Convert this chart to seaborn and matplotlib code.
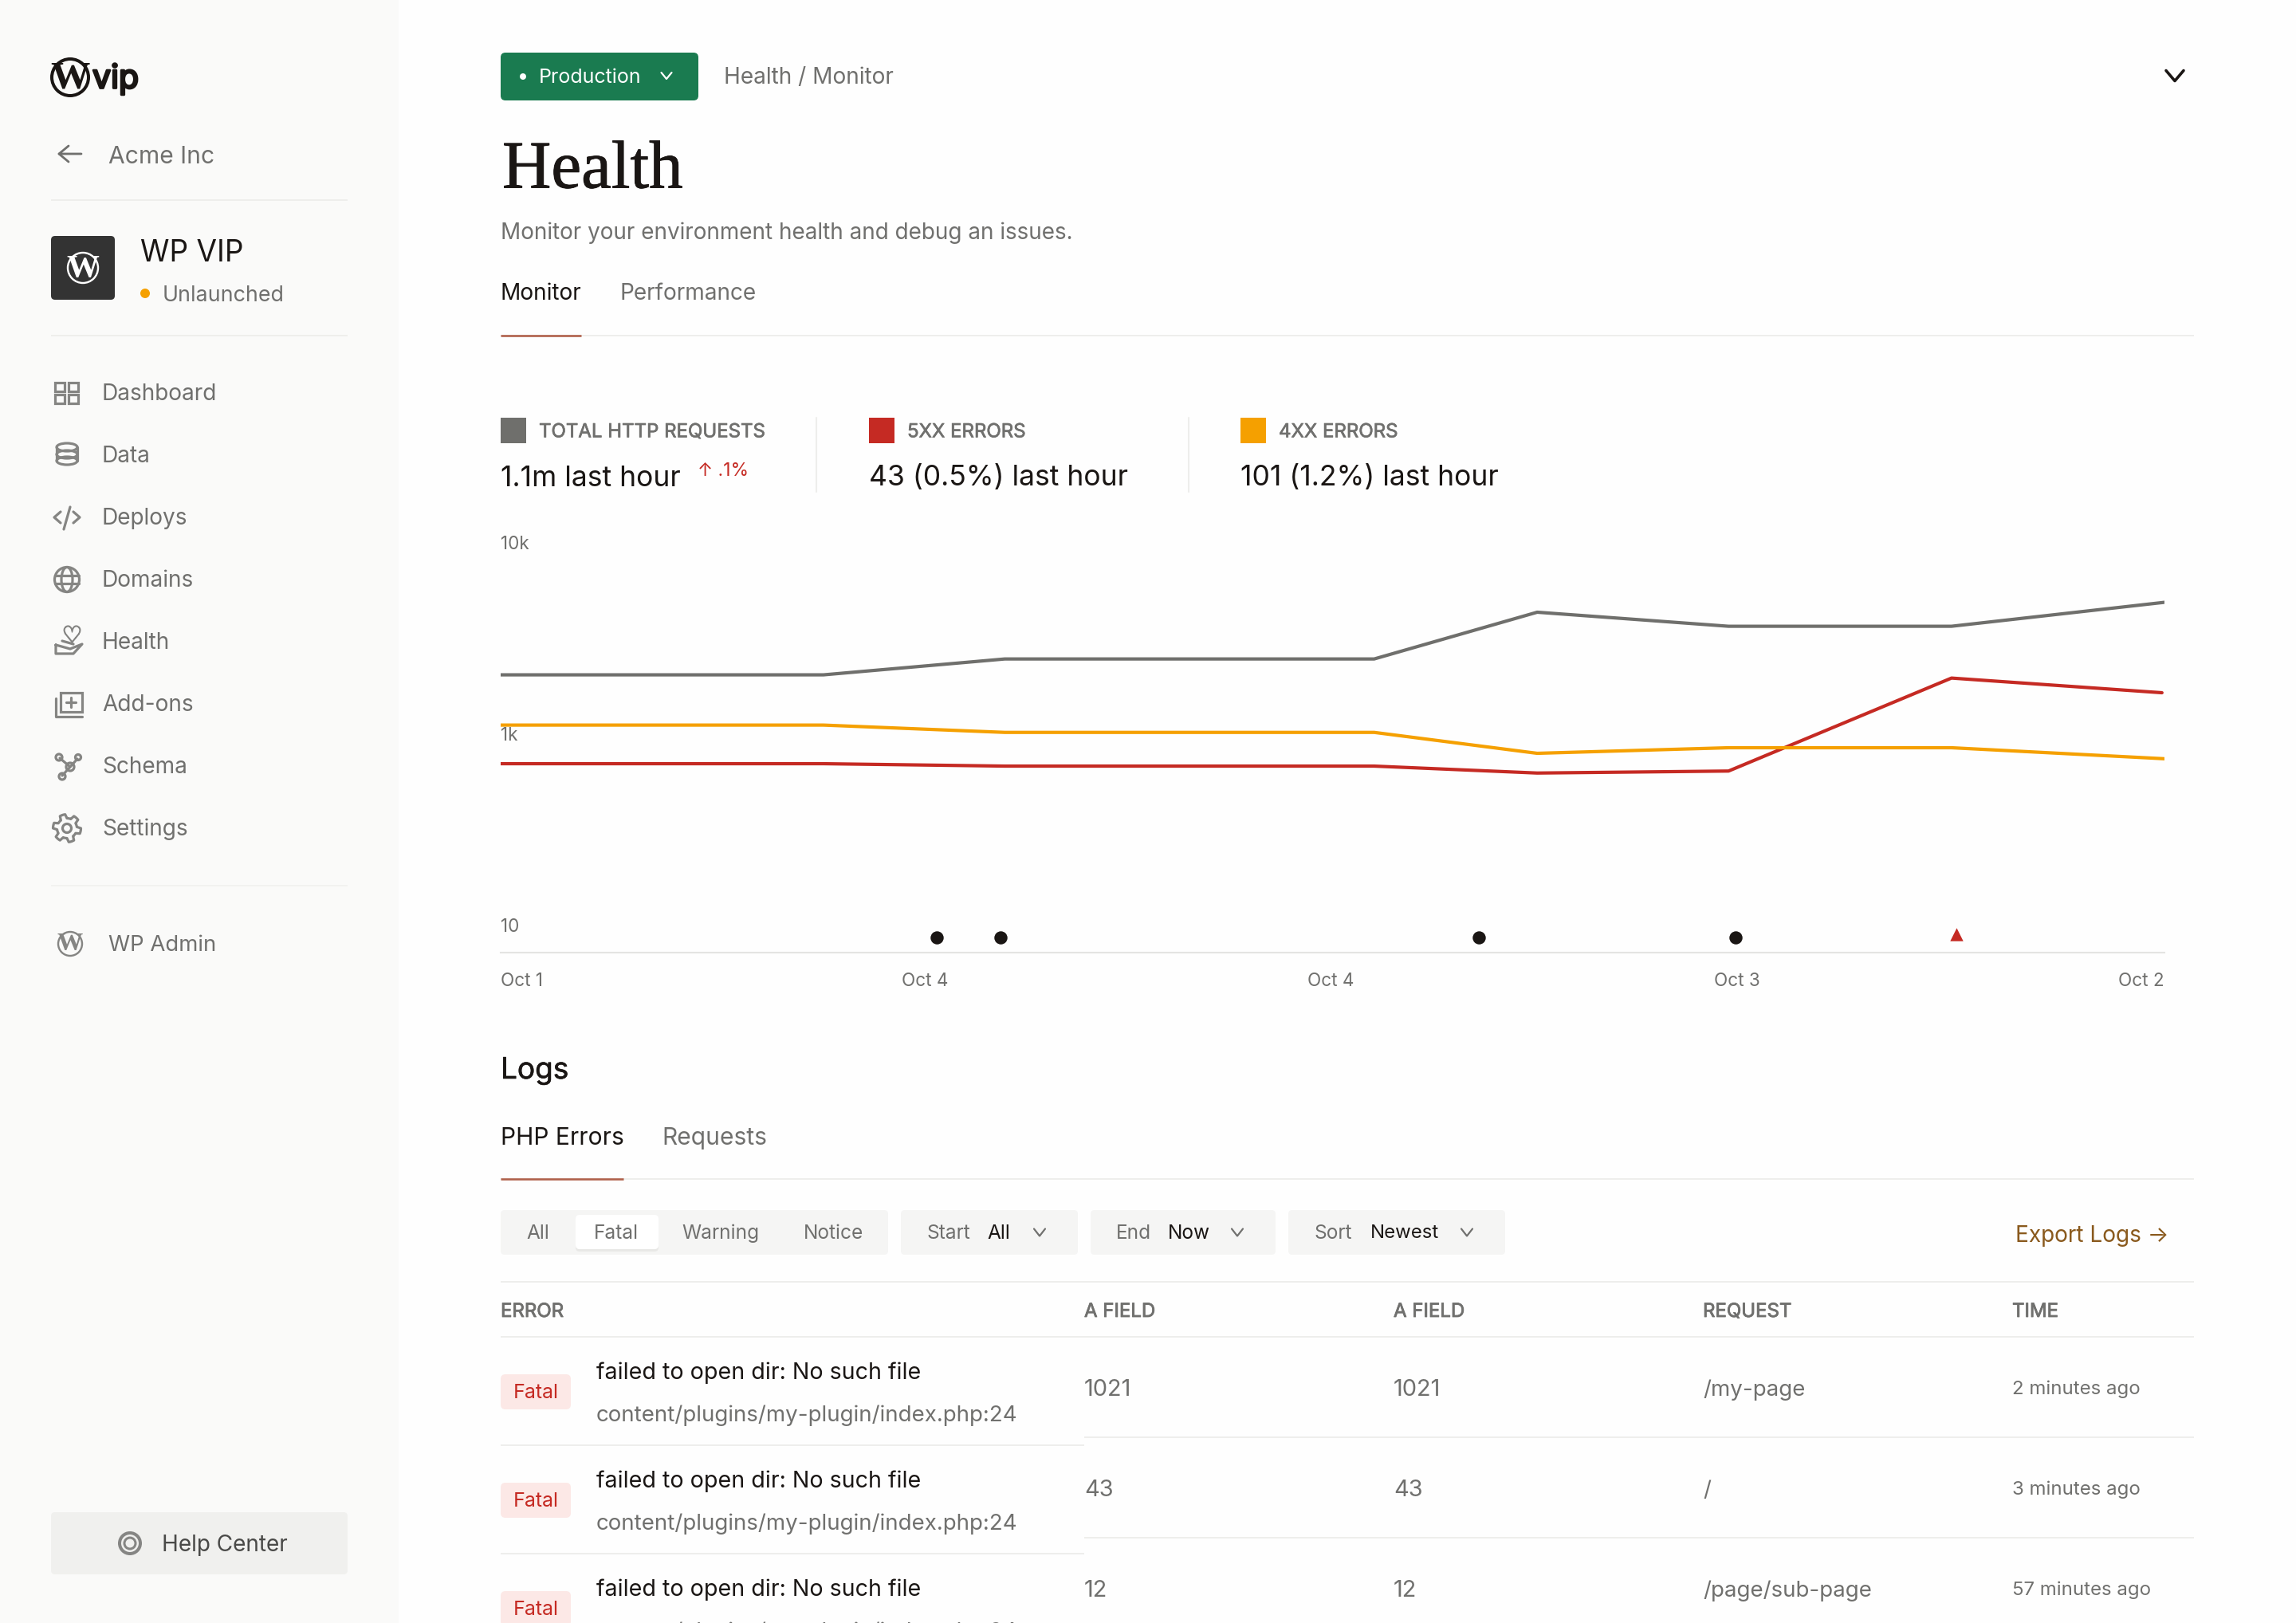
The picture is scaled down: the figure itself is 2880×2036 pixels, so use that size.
import numpy as np
import pandas as pd
import matplotlib
matplotlib.use("Agg")
from matplotlib import pyplot as plt
from matplotlib import patheffects
from matplotlib.patches import Circle, Ellipse, FancyBboxPatch, Polygon, Rectangle
import seaborn as sns

# chart values
time_pos = [0, 19.4, 30.3, 52.5, 62.3, 73.8, 87.2, 100]
red_pos = [0, 19.4, 30.3, 52.5, 62.3, 73.8, 87.2, 99.85]
total_requests = [2023, 2023, 2449, 2449, 4299, 3630, 3630, 4843]
errors_5xx = [482, 482, 455, 455, 385, 404, 1946, 1631]
errors_4xx = [1105, 1105, 1012, 1012, 619, 708, 708, 543]
series_names = ["Total HTTP requests", "5xx errors", "4xx errors"]
series_colors = ["#6F6F6C", "#C52A23", "#F5A000"]

event_pos = [26.2, 30.05, 58.8, 74.2]
event_level = [7.4, 7.4, 7.4, 7.4]
alert_pos = [87.5]
alert_level = [8.0]

y_ticks = [10, 1000, 10000]
y_tick_labels = ["10", "1k", "10k"]
x_ticks = [0, 25.5, 49.9, 74.3, 100]
x_tick_labels = ["Oct 1", "Oct 4", "Oct 4", "Oct 3", "Oct 2"]

# page text
nav_items = ["Dashboard", "Data", "Deploys", "Domains", "Health", "Add-ons", "Schema", "Settings"]
metric_labels = ["TOTAL HTTP REQUESTS", "5XX ERRORS", "4XX ERRORS"]
metric_values = ["1.1m last hour", "43 (0.5%) last hour", "101 (1.2%) last hour"]
table_headers = ["ERROR", "A FIELD", "A FIELD", "REQUEST", "TIME"]
row_fields = ["1021", "43", "12"]
row_requests = ["/my-page", "/", "/page/sub-page"]
row_times = ["2 minutes ago", "3 minutes ago", "57 minutes ago"]

DARK = "#1A1614"
GREY = "#70706E"
LINE = "#EEEEEC"
FONT = "Inter"

sns.set_theme(style="white")
plt.rcParams["font.family"] = [FONT, "DejaVu Sans"]

fig = plt.figure(figsize=(28.8, 20.36), dpi=100, facecolor="#FEFEFE")

# whole page axes, in image pixels
page = fig.add_axes([0, 0, 1, 1])
page.set_xlim(0, 2880)
page.set_ylim(2036, 0)
page.axis("off")


def label(x, y, s, size=28, color=GREY, ha="left", bold=0, family=None):
    # bold = extra outline in px, Inter only comes in one weight here
    t = page.text(x, y + 3, s, fontsize=size * 0.72, color=color, ha=ha, va="center",
                  family=family or [FONT, "DejaVu Sans"])
    if bold:
        t.set_path_effects([patheffects.withStroke(linewidth=bold, foreground=color)])
    return t


def box(x0, y0, x1, y1, color, r=6, **kw):
    page.add_patch(FancyBboxPatch((x0, y0), x1 - x0, y1 - y0, facecolor=color, edgecolor="none",
                                  boxstyle="round,pad=0,rounding_size=%s" % r, **kw))


def rule(x0, x1, y, color=LINE, w=2):
    page.plot([x0, x1], [y, y], color=color, lw=w * 0.72, solid_capstyle="butt")


def stroke(xs, ys, color="#858583", w=3.2):
    page.plot(xs, ys, color=color, lw=w * 0.72, solid_capstyle="round", solid_joinstyle="round")


def ring(x, y, r, color="#858583", w=3.2, fill="none"):
    page.add_patch(Circle((x, y), r, facecolor=fill, edgecolor=color, lw=w * 0.72))


def chevron(x, y, w=7, h=4.5, color=GREY, lw=2.2):
    stroke([x - w, x, x + w], [y - h, y + h, y - h], color=color, w=lw)


def wp_logo(x, y, r, color, w=3):
    ring(x, y, r, color=color, w=w)
    page.text(x, y + r * 0.06, "W", fontsize=r * 2.15 * 0.72, color=color, ha="center", va="center",
              family="Liberation Serif", fontweight="bold")


# sidebar
page.add_patch(Rectangle((0, 0), 500, 2036, facecolor="#FAFAF9", edgecolor="none"))
wp_logo(88, 97, 23, DARK, w=4)
label(116, 96, "vip", size=41, color=DARK, bold=2)
stroke([102, 74, 86], [193, 193, 183], color=GREY, w=2.8)
stroke([74, 86], [193, 203], color=GREY, w=2.8)
label(136, 194, "Acme Inc", size=30)
rule(64, 436, 251)
box(64, 296, 144, 376, "#333333", r=5)
wp_logo(104, 336, 19, "white", w=2.4)
label(176, 315, "WP VIP", size=37, color=DARK)
page.add_patch(Circle((182, 368), 6, facecolor="#F5A000", edgecolor="none"))
label(204, 368, "Unlaunched", size=26.8)
rule(64, 436, 420.5)
for i, name in enumerate(nav_items):
    label(128, 491 + 78 * i, name, size=28)

# nav icons, dashboard
for ix in [69, 86]:
    for iy in [480, 495]:
        page.add_patch(Rectangle((ix, iy), 12, 11, facecolor="none", edgecolor="#858583", lw=2.3))
# data
for iy in [561, 570, 578]:
    page.add_patch(Ellipse((84, iy), 26, 10, facecolor="none", edgecolor="#858583", lw=2.3))
stroke([71, 71], [561, 578])
stroke([97, 97], [561, 578])
# deploys
stroke([76, 68, 76], [642, 649, 656])
stroke([92, 100, 92], [642, 649, 656])
stroke([88, 80], [636, 664])
# domains
ring(84, 727, 15.5)
page.add_patch(Ellipse((84, 727), 14, 31, facecolor="none", edgecolor="#858583", lw=2.3))
stroke([69, 99], [722, 722])
stroke([69, 99], [732, 732])
# health
page.plot([90], [795], marker="$\u2661$", ms=15, color="#858583")
stroke([70, 70, 84, 92, 103, 88, 70], [809, 820, 820, 820, 808, 814, 809])
stroke([78, 92], [804, 808])
# add-ons
page.add_patch(Rectangle((76, 869), 27, 24, facecolor="none", edgecolor="#858583", lw=2.3))
stroke([70, 70, 103], [876, 899, 899])
stroke([89, 89], [875, 887])
stroke([83, 95], [881, 881])
# schema
stroke([75, 88, 97], [951, 962, 952])
stroke([88, 78], [962, 973])
ring(88, 962, 5)
ring(74, 950, 4)
ring(98, 950, 3.5)
ring(78, 974, 4)
# settings
a = np.linspace(0, 2 * np.pi, 48, endpoint=False)
gear_r = 15 + 2.5 * np.sign(np.sin(6 * a + 0.4))
page.add_patch(Polygon(np.c_[84 + gear_r * np.cos(a), 1039 + gear_r * np.sin(a)], closed=True,
                       facecolor="none", edgecolor="#858583", lw=2.3, joinstyle="round"))
ring(84, 1039, 5.5)

rule(64, 436, 1111, color="#F2F2F0")
wp_logo(88, 1184, 15, "#858583", w=2.4)
label(136, 1183, "WP Admin", size=27.5)
box(64, 1897, 436, 1975, "#F0F0EE", r=5)
ring(163, 1936, 13, w=4)
ring(163, 1936, 7, w=3)
label(203, 1936, "Help Center", size=28, color="#4A4A48")

# header
box(628, 66, 876, 126, "#1A7B50", r=6)
page.add_patch(Circle((656, 96), 4, facecolor="white", edgecolor="none"))
label(676, 94, "Production", size=25, color="white")
chevron(836, 95, color="white", w=6.5, h=4)
label(908, 94.5, "Health / Monitor", size=28)
chevron(2728, 95, w=11, h=6.5, color=DARK, lw=3.6)
label(630, 212, "Health", size=85, color=DARK, family="Liberation Serif", bold=0.6)
label(628, 289.5, "Monitor your environment health and debug an issues.", size=27.9)
label(628, 365.5, "Monitor", size=28, color=DARK)
label(778, 365.5, "Performance", size=28)
rule(628, 2752, 421)
rule(628, 729, 421, color="#B0604A", w=2.6)

# metric header
metric_x = [628, 1090, 1556]
for mx, name, value, c in zip(metric_x, metric_labels, metric_values, series_colors):
    page.add_patch(Rectangle((mx, 524), 32, 32, facecolor=c, edgecolor="none"))
    label(mx + 48, 539.5, name, size=24, bold=0.5)
    label(mx, 597, value, size=35.5, color=DARK)
label(875, 588, "\u2191 .1%", size=23, color="#C52A23")
for dx in [1024, 1491]:
    page.plot([dx, dx], [524, 617], color=LINE, lw=1.5)

# logs part
label(628, 1340, "Logs", size=37, color=DARK, bold=0.4)
label(628, 1424.5, "PHP Errors", size=30, color=DARK)
label(830, 1424.5, "Requests", size=30)
rule(628, 2752, 1479)
rule(628, 782, 1479, color="#B0604A", w=2.6)

box(628, 1518, 1114, 1574, "#F5F5F4", r=5)
box(722, 1526, 826, 1570, "#E8E8E6", r=5)
box(722, 1524, 826, 1567, "white", r=5)
for cx, name in zip([675, 772.5, 904, 1045], ["All", "Fatal", "Warning", "Notice"]):
    label(cx, 1544, name, size=24.5, ha="center")
box(1130, 1518, 1352, 1574, "#F5F5F4", r=5)
label(1162, 1544, "Start", size=24.5)
label(1238, 1544, "All", size=24.5, color=DARK)
chevron(1304, 1546)
box(1368, 1518, 1600, 1574, "#F5F5F4", r=5)
label(1400, 1544, "End", size=24.5)
label(1465, 1544, "Now", size=24.5, color=DARK)
chevron(1552, 1546)
box(1616, 1518, 1888, 1574, "#F5F5F4", r=5)
label(1648, 1544, "Sort", size=24.5)
label(1719, 1544, "Newest", size=24, color=DARK)
chevron(1840, 1546)
label(2528, 1547.5, "Export Logs \u2192", size=28, color="#8A5A1E")

# table
rule(628, 2752, 1608)
rule(628, 2752, 1677)
for hx, name in zip([628, 1360, 1748, 2136, 2524], table_headers):
    label(hx, 1643, name, size=24, bold=0.6)
rule(628, 1360, 1813)
rule(628, 1360, 1949)
rule(1360, 2752, 1803)
rule(1360, 2752, 1929)
title_y = [1719.5, 1855.5, 1991.5]
path_y = [1772.5, 1908.5, 2044.5]
badge_y = [1724, 1860, 1996]
value_y = [1740.5, 1866.5, 1992.5]
for i in range(3):
    box(628, badge_y[i], 716, badge_y[i] + 44, "#FCE8E6", r=6)
    label(672, badge_y[i] + 20, "Fatal", size=25, color="#C52A23", ha="center")
    label(748, title_y[i], "failed to open dir: No such file", size=28.6, color=DARK)
    label(748, path_y[i], "content/plugins/my-plugin/index.php:24", size=27.7)
    label(1360, value_y[i], row_fields[i], size=29)
    label(1748, value_y[i], row_fields[i], size=29)
    label(2136, value_y[i], row_requests[i], size=27.7)
    label(2524, value_y[i] - 1, row_times[i], size=24)


# y axis: 10k-1k takes as much room as 1k-10, so each part has its own log step
def y_forward(v):
    lg = np.log10(np.maximum(v, 1e-3)) - 3
    return np.where(lg >= 0, lg * 240, lg * 120)


def y_inverse(p):
    p = np.asarray(p, dtype=float)
    return 10 ** (np.where(p >= 0, p / 240, p / 120) + 3)


lines = pd.concat([
    pd.DataFrame({"pos": time_pos, "value": total_requests, "series": series_names[0]}),
    pd.DataFrame({"pos": red_pos, "value": errors_5xx, "series": series_names[1]}),
    pd.DataFrame({"pos": time_pos, "value": errors_4xx, "series": series_names[2]}),
])

ax = fig.add_axes([628 / 2880, 1 - 1195 / 2036, (2715 - 628) / 2880, 555 / 2036])
ax.patch.set_alpha(0)
ax.set_yscale("function", functions=(y_forward, y_inverse))
sns.lineplot(data=lines, x="pos", y="value", hue="series", hue_order=series_names,
             palette=series_colors, estimator=None, linewidth=3, legend=False, ax=ax)
sns.scatterplot(x=event_pos, y=event_level, color=DARK, s=140, linewidth=0, zorder=5, ax=ax)
sns.scatterplot(x=alert_pos, y=alert_level, color="#C52A23", marker="^", s=140, linewidth=0,
                zorder=5, ax=ax)
ax.set_xlim(0, 100)
ax.set_ylim(5.11, 14678)
ax.set_xlabel("")
ax.set_ylabel("")
ax.set_yticks(y_ticks, y_tick_labels)
ax.yaxis.set_minor_locator(matplotlib.ticker.NullLocator())
ax.set_xticks(x_ticks, x_tick_labels)
ax.tick_params(axis="both", length=0, labelsize=22.5 * 0.72, labelcolor=GREY)
ax.tick_params(axis="y", pad=0)
ax.tick_params(axis="x", pad=18)
for t in ax.get_yticklabels():
    t.set_ha("left")
ax.get_xticklabels()[0].set_ha("left")
ax.get_xticklabels()[-1].set_ha("right")
sns.despine(ax=ax, left=True)
ax.spines["bottom"].set_color("#E4E4E2")
ax.spines["bottom"].set_linewidth(1.5)

fig.savefig("out.png", dpi=100)
